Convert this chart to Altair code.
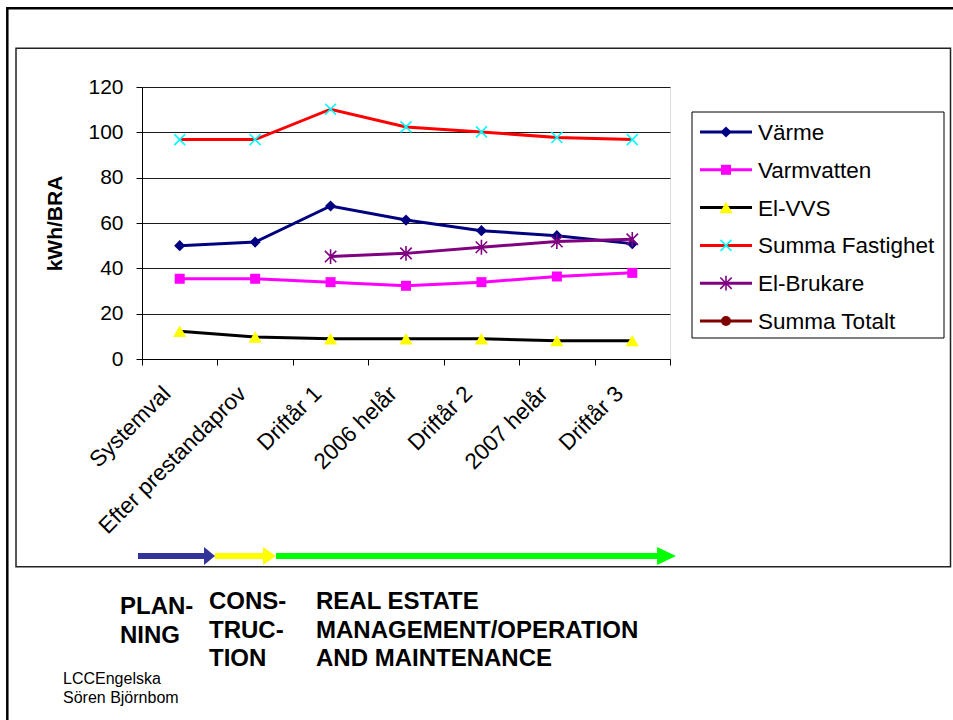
import altair as alt
import pandas as pd

# ---- data -------------------------------------------------------------
categories = ["Systemval", "Efter prestandaprov", "Driftår 1", "2006 helår",
              "Driftår 2", "2007 helår", "Driftår 3"]

series_names = ["Värme", "Varmvatten", "El-VVS", "Summa Fastighet",
                "El-Brukare", "Summa Totalt"]

varme = [50.0, 51.6, 67.5, 61.3, 56.6, 54.4, 50.9]
varmvatten = [35.4, 35.4, 33.9, 32.3, 33.9, 36.4, 38.0]
el_vvs = [12.2, 9.7, 8.9, 8.9, 8.9, 8.1, 8.1]
summa_fastighet = [96.8, 96.8, 110.2, 102.4, 100.2, 97.7, 96.8]
el_brukare = [None, None, 45.2, 46.6, 49.3, 51.8, 52.8]
summa_totalt = [None, None, None, None, None, None, None]

y_ticks = [0, 20, 40, 60, 80, 100, 120]

phase_labels = [["PLAN-", "NING"], ["CONS-", "TRUC-", "TION"],
                ["REAL ESTATE", "MANAGEMENT/OPERATION", "AND MAINTENANCE"]]
credit_lines = ["LCCEngelska", "Sören Björnbom"]

values_by_series = [varme, varmvatten, el_vvs, summa_fastighet, el_brukare, summa_totalt]
rows = []
for name, vals in zip(series_names, values_by_series):
    for cat, v in zip(categories, vals):
        rows.append({"cat": cat, "series": name, "value": v})
df = pd.DataFrame(rows)

# ---- styling ----------------------------------------------------------
FONT = "Liberation Sans"
W, H = 528, 272            # plot area
LEFT, TOP = 142, 87        # plot origin inside the 953x720 page

X_MARK = "M-1,-1L1,1M-1,1L1,-1"
STAR_MARK = "M-1,-1L1,1M-1,1L1,-1M0,-1.3L0,1.3"

line_colors = ["#000080", "#FF00FF", "#000000", "#FF0000", "#800080", "#800000"]
marker_colors = ["#000080", "#FF00FF", "#FFFF00", "#00FFFF", "#800080", "#800000"]
marker_shapes = ["diamond", "square", "triangle-up", X_MARK, STAR_MARK, "circle"]
marker_sizes = [125, 100, 175, 120, 130, 100]
marker_filled = [True, True, True, False, False, True]

one = pd.DataFrame({"o": [0]})

x_enc = alt.X(
    "cat:N",
    sort=categories,
    scale=alt.Scale(type="band", domain=categories, paddingInner=0, paddingOuter=0),
    axis=alt.Axis(
        title=None, labelAngle=-45, labelFontSize=22.5, labelColor="black",
        labelFont=FONT, tickBand="extent", tickSize=6, tickColor="black",
        domainColor="black", labelPadding=17, labelOffset=-21, grid=False,
        labelLimit=400,
    ),
)
y_enc = alt.Y(
    "value:Q",
    scale=alt.Scale(domain=[0, 120], nice=False),
    axis=alt.Axis(
        values=y_ticks, title="kWh/BRA", titleFontSize=21, titleFontWeight="bold",
        titleFont=FONT, titleColor="black", titlePadding=22,
        labelFontSize=21, labelFont=FONT, labelColor="black", labelPadding=13,
        tickSize=6, tickColor="black", domainColor="black",
        grid=True, gridColor="#1a1a1a", gridWidth=1,
    ),
)

layers = []

# chart-area frame and the outer slide frame
layers.append(alt.Chart(one).mark_rect(fillOpacity=0, stroke="#222222", strokeWidth=1.5).encode(
    x=alt.value(-126), x2=alt.value(808.5), y=alt.value(-38.7), y2=alt.value(479.7)))
layers.append(alt.Chart(one).mark_rule(color="black", strokeWidth=2.5).encode(
    x=alt.value(-135), x2=alt.value(811), y=alt.value(-78.7)))
layers.append(alt.Chart(one).mark_rule(color="black", strokeWidth=2.5).encode(
    x=alt.value(-134.7), y=alt.value(-80), y2=alt.value(633)))

# series lines and markers
for name, lc, mc, shp, sz, fl in zip(series_names, line_colors, marker_colors,
                                     marker_shapes, marker_sizes, marker_filled):
    base = alt.Chart(df).transform_filter(alt.datum.series == name)
    layers.append(base.mark_line(color=lc, strokeWidth=3).encode(x=x_enc, y=y_enc))
    if fl:
        pts = base.mark_point(shape=shp, size=sz, filled=True, fill=mc,
                              strokeWidth=0, opacity=1)
    else:
        pts = base.mark_point(shape=shp, size=sz, filled=False, stroke=mc,
                              strokeWidth=1.6, opacity=1)
    layers.append(pts.encode(x=x_enc, y=y_enc))

# legend box
layers.append(alt.Chart(one).mark_rect(fill="white", stroke="black", strokeWidth=1).encode(
    x=alt.value(550), x2=alt.value(802), y=alt.value(25), y2=alt.value(251)))
for i, (name, lc, mc, shp, sz, fl) in enumerate(zip(series_names, line_colors, marker_colors,
                                                    marker_shapes, marker_sizes, marker_filled)):
    ly = 45 + i * 37.8
    layers.append(alt.Chart(one).mark_rule(color=lc, strokeWidth=3).encode(
        x=alt.value(558), x2=alt.value(610), y=alt.value(ly)))
    if fl:
        m = alt.Chart(one).mark_point(shape=shp, size=sz, filled=True, fill=mc,
                                      strokeWidth=0, opacity=1)
    else:
        m = alt.Chart(one).mark_point(shape=shp, size=sz, filled=False, stroke=mc,
                                      strokeWidth=1.6, opacity=1)
    layers.append(m.encode(x=alt.value(584), y=alt.value(ly)))
    layers.append(alt.Chart(one).mark_text(
        text=name, font=FONT, fontSize=22.5, color="black", align="left", baseline="middle"
    ).encode(x=alt.value(616), y=alt.value(ly + 1)))

# life-cycle arrows under the axis
arrow_y = 469
arrows = [
    ("#333399", -4, 63, 67.5, "M-0.61,-1L0.61,0L-0.61,1Z"),
    ("#FFFF00", 73, 122, 127.5, "M-0.72,-1L0.72,0L-0.72,1Z"),
    ("#00FF00", 134, 516, 524.5, "M-1.05,-1L1.05,0L-1.05,1Z"),
]
for col, xs, xe, hx, head in arrows:
    layers.append(alt.Chart(one).mark_rule(color=col, strokeWidth=6).encode(
        x=alt.value(xs), x2=alt.value(xe), y=alt.value(arrow_y)))
    layers.append(alt.Chart(one).mark_point(shape=head, size=324, filled=True, fill=col,
                                            strokeWidth=0, opacity=1).encode(
        x=alt.value(hx), y=alt.value(arrow_y)))

# phase captions
for lines, px, py in zip(phase_labels, [-22, 67, 174], [527, 522, 522]):
    layers.append(alt.Chart(one).mark_text(
        text=lines, font=FONT, fontSize=24, fontWeight="bold", color="black",
        align="left", baseline="alphabetic", lineHeight=28.7
    ).encode(x=alt.value(px), y=alt.value(py)))

layers.append(alt.Chart(one).mark_text(
    text=credit_lines, font=FONT, fontSize=16, color="black",
    align="left", baseline="alphabetic", lineHeight=19
).encode(x=alt.value(-79), y=alt.value(597)))

chart = alt.layer(*layers).properties(
    width=W, height=H,
    padding={"left": LEFT, "top": TOP, "right": 953 - LEFT - W, "bottom": 720 - TOP - H},
    autosize=alt.AutoSizeParams(type="none"),
    background="white",
).configure_view(stroke="#808080", strokeWidth=1).configure(font=FONT)

chart.save("out.html", embed_options={"renderer": "svg", "actions": False})
